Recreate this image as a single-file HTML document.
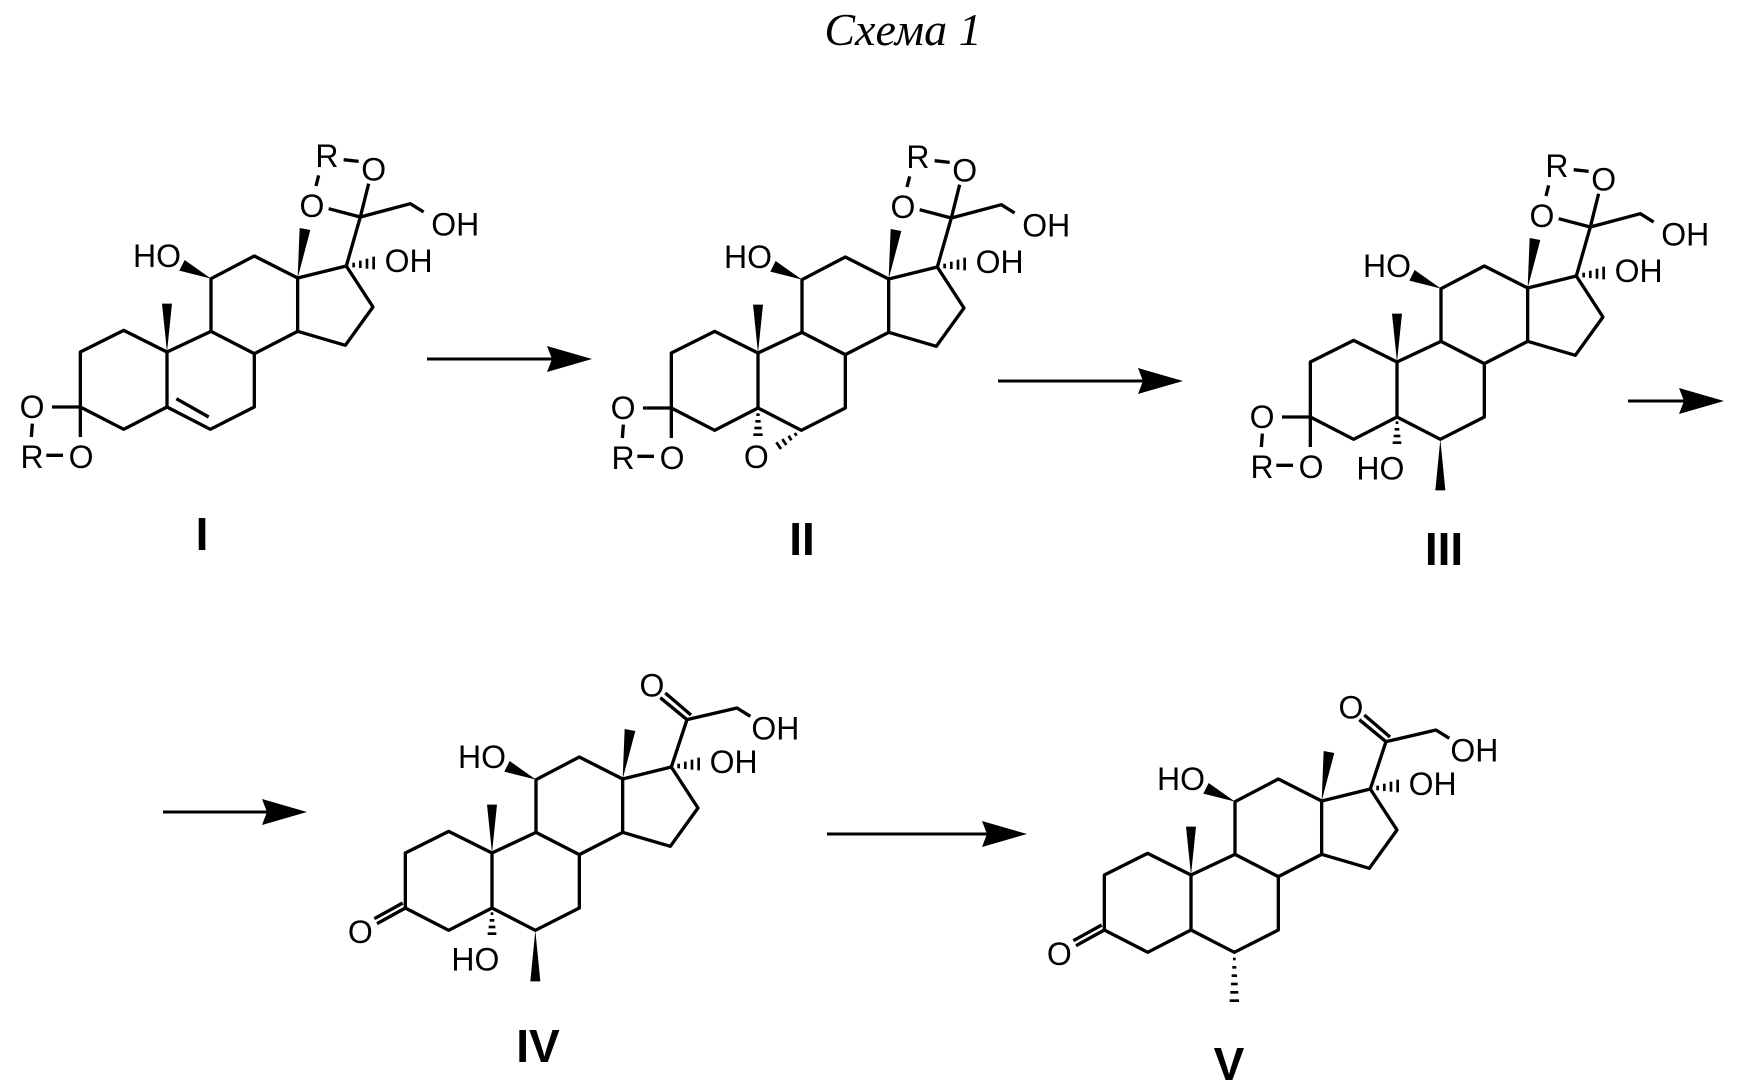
<!DOCTYPE html>
<html><head><meta charset="utf-8"><style>
html,body{margin:0;padding:0;background:#fff;}
svg{display:block;}
</style></head><body>
<svg width="1749" height="1089" viewBox="0 0 1749 1089" xmlns="http://www.w3.org/2000/svg">
<text x="903" y="45" font-family="Liberation Serif, serif" font-style="italic" font-size="46" text-anchor="middle" fill="#000">Схема 1</text>

<g stroke="#000" stroke-width="3" fill="#000">
<line x1="427" y1="359" x2="560" y2="359"/><polygon points="592,359 547,346 552,359 547,372" stroke="none"/>
<line x1="998" y1="381" x2="1150" y2="381"/><polygon points="1183,381 1138,368 1143,381 1138,394" stroke="none"/>
<line x1="1628" y1="401" x2="1690" y2="401"/><polygon points="1724,401 1679,388 1684,401 1679,414" stroke="none"/>
<line x1="163" y1="812" x2="275" y2="812"/><polygon points="307,812 262,799 267,812 262,825" stroke="none"/>
<line x1="827" y1="834" x2="995" y2="834"/><polygon points="1027,834 982,821 987,834 982,847" stroke="none"/>
</g>

<g font-family="Liberation Sans, sans-serif" font-weight="bold" font-size="46" text-anchor="middle" fill="#000">
<text x="202" y="550">I</text>
<text x="802" y="555">II</text>
<text x="1444" y="565">III</text>
<text x="538" y="1062">IV</text>
<text x="1229" y="1080">V</text>
</g>

<!-- ===== I ===== -->
<g transform="translate(167,352) scale(0.3333)" stroke="#000" stroke-width="10" fill="none" stroke-linejoin="round" font-family="Liberation Sans, sans-serif" font-size="96">
<path d="M-260,0 L-130,-65 L0,0 L0,165 L-130,232 L-260,165 Z"/>
<path d="M0,0 L132,-62 L262,5 L262,165 L130,232 L0,165"/>
<path d="M132,-62 L132,-220 L262,-288 L392,-222 L392,-62 L262,5"/>
<path d="M392,-222 L538,-258 L618,-135 L535,-20 L392,-62"/>
<line x1="28" y1="140" x2="125" y2="195"/>
<polygon points="0,0 -15,-145 15,-145" fill="#000" stroke="none"/>
<polygon points="392,-222 398,-372 430,-366" fill="#000" stroke="none"/>
<polygon points="132,-220 53,-276 37,-244" fill="#000" stroke="none"/>
<g stroke-width="8"><line x1="560" y1="-268" x2="560" y2="-254"/><line x1="580" y1="-274" x2="580" y2="-252"/><line x1="600" y1="-280" x2="600" y2="-250"/><line x1="620" y1="-286" x2="620" y2="-248"/></g>
<path d="M538,-258 L580,-405 M580,-405 L485,-430 M580,-405 L605,-505 M580,-405 L730,-445 L770,-420"/>
<line x1="530" y1="-577" x2="575" y2="-572"/><line x1="455" y1="-530" x2="447" y2="-498"/>
<path d="M-260,165 L-345,165 M-260,165 L-260,255"/>
<line x1="-362" y1="310" x2="-312" y2="310"/><line x1="-404" y1="215" x2="-407" y2="255"/>
<g fill="#000" stroke="none" text-anchor="middle">
<text x="-30" y="-255">HO</text><text x="725" y="-240">OH</text>
<text x="435" y="-405">O</text><text x="620" y="-515">O</text><text x="480" y="-555">R</text><text x="865" y="-350">OH</text>
<text x="-405" y="198">O</text><text x="-258" y="348">O</text><text x="-405" y="348">R</text>
</g>
</g>

<!-- ===== II ===== -->
<g transform="translate(758,353) scale(0.3333)" stroke="#000" stroke-width="10" fill="none" stroke-linejoin="round" font-family="Liberation Sans, sans-serif" font-size="96">
<path d="M-260,0 L-130,-65 L0,0 L0,165 L-130,232 L-260,165 Z"/>
<path d="M0,0 L132,-62 L262,5 L262,165 L130,232 L0,165"/>
<path d="M132,-62 L132,-220 L262,-288 L392,-222 L392,-62 L262,5"/>
<path d="M392,-222 L538,-258 L618,-135 L535,-20 L392,-62"/>
<polygon points="0,0 -15,-145 15,-145" fill="#000" stroke="none"/>
<polygon points="392,-222 398,-372 430,-366" fill="#000" stroke="none"/>
<polygon points="132,-220 53,-276 37,-244" fill="#000" stroke="none"/>
<g stroke-width="8"><line x1="560" y1="-268" x2="560" y2="-254"/><line x1="580" y1="-274" x2="580" y2="-252"/><line x1="600" y1="-280" x2="600" y2="-250"/><line x1="620" y1="-286" x2="620" y2="-248"/></g>
<g stroke-width="8">
<line x1="-5" y1="185" x2="5" y2="185"/><line x1="-8" y1="205" x2="8" y2="205"/><line x1="-11" y1="225" x2="11" y2="225"/><line x1="-14" y1="245" x2="14" y2="245"/>
<line x1="110" y1="240" x2="116" y2="248"/><line x1="92" y1="248" x2="100" y2="262"/><line x1="73" y1="258" x2="85" y2="276"/><line x1="55" y1="268" x2="69" y2="288"/>
</g>
<path d="M538,-258 L580,-405 M580,-405 L485,-430 M580,-405 L605,-505 M580,-405 L730,-445 L770,-420"/>
<line x1="530" y1="-577" x2="575" y2="-572"/><line x1="455" y1="-530" x2="447" y2="-498"/>
<path d="M-260,165 L-345,165 M-260,165 L-260,255"/>
<line x1="-362" y1="310" x2="-312" y2="310"/><line x1="-404" y1="215" x2="-407" y2="255"/>
<g fill="#000" stroke="none" text-anchor="middle">
<text x="-30" y="-255">HO</text><text x="725" y="-240">OH</text>
<text x="435" y="-405">O</text><text x="620" y="-515">O</text><text x="480" y="-555">R</text><text x="865" y="-350">OH</text>
<text x="-405" y="198">O</text><text x="-258" y="348">O</text><text x="-405" y="348">R</text>
<text x="-5" y="345">O</text>
</g>
</g>

<!-- ===== III ===== -->
<g transform="translate(1397,362) scale(0.3333)" stroke="#000" stroke-width="10" fill="none" stroke-linejoin="round" font-family="Liberation Sans, sans-serif" font-size="96">
<path d="M-260,0 L-130,-65 L0,0 L0,165 L-130,232 L-260,165 Z"/>
<path d="M0,0 L132,-62 L262,5 L262,165 L130,232 L0,165"/>
<path d="M132,-62 L132,-220 L262,-288 L392,-222 L392,-62 L262,5"/>
<path d="M392,-222 L538,-258 L618,-135 L535,-20 L392,-62"/>
<polygon points="0,0 -15,-145 15,-145" fill="#000" stroke="none"/>
<polygon points="392,-222 398,-372 430,-366" fill="#000" stroke="none"/>
<polygon points="132,-220 53,-276 37,-244" fill="#000" stroke="none"/>
<polygon points="130,232 115,385 145,385" fill="#000" stroke="none"/>
<g stroke-width="8"><line x1="560" y1="-268" x2="560" y2="-254"/><line x1="580" y1="-274" x2="580" y2="-252"/><line x1="600" y1="-280" x2="600" y2="-250"/><line x1="620" y1="-286" x2="620" y2="-248"/>
<line x1="-4" y1="182" x2="4" y2="182"/><line x1="-7" y1="202" x2="7" y2="202"/><line x1="-10" y1="222" x2="10" y2="222"/><line x1="-13" y1="242" x2="13" y2="242"/></g>
<path d="M538,-258 L580,-405 M580,-405 L485,-430 M580,-405 L605,-505 M580,-405 L730,-445 L770,-420"/>
<line x1="530" y1="-577" x2="575" y2="-572"/><line x1="455" y1="-530" x2="447" y2="-498"/>
<path d="M-260,165 L-345,165 M-260,165 L-260,255"/>
<line x1="-362" y1="310" x2="-312" y2="310"/><line x1="-404" y1="215" x2="-407" y2="255"/>
<g fill="#000" stroke="none" text-anchor="middle">
<text x="-30" y="-255">HO</text><text x="725" y="-240">OH</text>
<text x="435" y="-405">O</text><text x="620" y="-515">O</text><text x="480" y="-555">R</text><text x="865" y="-350">OH</text>
<text x="-405" y="198">O</text><text x="-258" y="348">O</text><text x="-405" y="348">R</text>
<text x="-50" y="352">HO</text>
</g>
</g>

<!-- ===== IV ===== -->
<g transform="translate(492,853) scale(0.3333)" stroke="#000" stroke-width="10" fill="none" stroke-linejoin="round" font-family="Liberation Sans, sans-serif" font-size="96">
<path d="M-260,0 L-130,-65 L0,0 L0,165 L-130,232 L-260,165 Z"/>
<path d="M0,0 L132,-62 L262,5 L262,165 L130,232 L0,165"/>
<path d="M132,-62 L132,-220 L262,-288 L392,-222 L392,-62 L262,5"/>
<path d="M392,-222 L538,-258 L618,-135 L535,-20 L392,-62"/>
<polygon points="0,0 -15,-145 15,-145" fill="#000" stroke="none"/>
<polygon points="392,-222 398,-372 430,-366" fill="#000" stroke="none"/>
<polygon points="132,-220 53,-276 37,-244" fill="#000" stroke="none"/>
<polygon points="130,232 115,385 145,385" fill="#000" stroke="none"/>
<g stroke-width="8"><line x1="560" y1="-268" x2="560" y2="-254"/><line x1="580" y1="-274" x2="580" y2="-252"/><line x1="600" y1="-280" x2="600" y2="-250"/><line x1="620" y1="-286" x2="620" y2="-248"/>
<line x1="-4" y1="182" x2="4" y2="182"/><line x1="-7" y1="202" x2="7" y2="202"/><line x1="-10" y1="222" x2="10" y2="222"/><line x1="-13" y1="242" x2="13" y2="242"/></g>
<path d="M538,-258 L585,-400 M585,-400 L505,-466 M597,-414 L520,-480 M585,-400 L735,-435 L775,-410"/>
<path d="M-260,165 L-345,212 M-268,150 L-353,197"/>
<g fill="#000" stroke="none" text-anchor="middle">
<text x="-30" y="-255">HO</text><text x="725" y="-240">OH</text>
<text x="480" y="-470">O</text><text x="850" y="-340">OH</text>
<text x="-395" y="270">O</text>
<text x="-50" y="352">HO</text>
</g>
</g>

<!-- ===== V ===== -->
<g transform="translate(1191,875) scale(0.3333)" stroke="#000" stroke-width="10" fill="none" stroke-linejoin="round" font-family="Liberation Sans, sans-serif" font-size="96">
<path d="M-260,0 L-130,-65 L0,0 L0,165 L-130,232 L-260,165 Z"/>
<path d="M0,0 L132,-62 L262,5 L262,165 L130,232 L0,165"/>
<path d="M132,-62 L132,-220 L262,-288 L392,-222 L392,-62 L262,5"/>
<path d="M392,-222 L538,-258 L618,-135 L535,-20 L392,-62"/>
<polygon points="0,0 -15,-145 15,-145" fill="#000" stroke="none"/>
<polygon points="392,-222 398,-372 430,-366" fill="#000" stroke="none"/>
<polygon points="132,-220 53,-276 37,-244" fill="#000" stroke="none"/>
<g stroke-width="8"><line x1="560" y1="-268" x2="560" y2="-254"/><line x1="580" y1="-274" x2="580" y2="-252"/><line x1="600" y1="-280" x2="600" y2="-250"/><line x1="620" y1="-286" x2="620" y2="-248"/>
<line x1="126" y1="252" x2="134" y2="252"/><line x1="124" y1="277" x2="136" y2="277"/><line x1="122" y1="302" x2="138" y2="302"/><line x1="120" y1="327" x2="140" y2="327"/><line x1="118" y1="352" x2="142" y2="352"/><line x1="116" y1="377" x2="144" y2="377"/></g>
<path d="M538,-258 L585,-400 M585,-400 L505,-466 M597,-414 L520,-480 M585,-400 L735,-435 L775,-410"/>
<path d="M-260,165 L-345,212 M-268,150 L-353,197"/>
<g fill="#000" stroke="none" text-anchor="middle">
<text x="-30" y="-255">HO</text><text x="725" y="-240">OH</text>
<text x="480" y="-470">O</text><text x="850" y="-340">OH</text>
<text x="-395" y="270">O</text>
</g>
</g>
</svg>
</body></html>
